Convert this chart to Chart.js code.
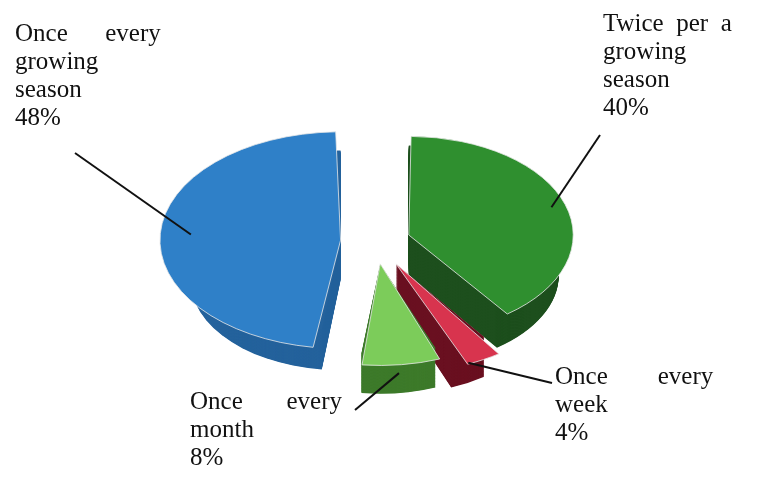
<!DOCTYPE html>
<html>
<head>
<meta charset="utf-8">
<script src="https://cdn.jsdelivr.net/npm/chart.js@4.4.1/dist/chart.umd.min.js"></script>
<style>
  body { margin: 0; background: #fff; }
  #wrap { width: 781px; height: 483px; }
</style>
</head>
<body>
<div id="wrap"><canvas id="pieChart"></canvas></div>
<script>
const categories = ['Twice per a growing season', 'Once every week', 'Once every month', 'Once every growing season'];
const shares = [40, 4, 8, 48];
const sliceColors = ['#2f8f2f', '#d8344e', '#7ccc5a', '#2f80c8'];
const sideColors = ['#1d4f1d', '#6a1020', '#3d7a2a', '#24629c'];
const sliceOffsets = [140, 170, 150, 140];
const labelLines = [
    ['Twice  per  a', 'growing', 'season', '40%'],
    ['Once        every', 'week', '4%'],
    ['Once       every', 'month', '8%'],
    ['Once      every', 'growing', 'season', '48%']
];
// top-left of each label block, and where its leader line starts
const labelPos = [[603, 12, 600, 135], [555, 365, 552, 383], [190, 390, 355, 410], [15, 22, 75, 153]];

const tilt = 0.6;
const depth = 40;

function drawnOffset(off) { return off / 4; }

const depthPlugin = {
    id: 'depth',
    beforeDatasetsDraw(chart) {
        const ctx = chart.ctx;
        const meta = chart.getDatasetMeta(0);
        const cy = meta.data[0].y;
        ctx.save();
        ctx.translate(0, cy * (1 - tilt));
        ctx.scale(1, tilt);
        const d0 = depth / tilt;
        meta.data.forEach((arc, i) => {
            const p = arc.getProps(['x', 'y', 'startAngle', 'endAngle', 'outerRadius'], true);
            const off = drawnOffset(sliceOffsets[i]);
            const mid = (p.startAngle + p.endAngle) / 2;
            const cx = p.x + Math.cos(mid) * off;
            const yy = p.y + Math.sin(mid) * off;
            ctx.fillStyle = sideColors[i];
            for (let d = d0; d > 0; d -= 1) {
                ctx.beginPath();
                ctx.moveTo(cx, yy + d);
                ctx.arc(cx, yy + d, p.outerRadius, p.startAngle, p.endAngle);
                ctx.closePath();
                ctx.fill();
            }
        });
    },
    afterDatasetsDraw(chart) {
        const ctx = chart.ctx;
        ctx.restore();
        const meta = chart.getDatasetMeta(0);
        const cy = meta.data[0].y;
        ctx.save();
        ctx.font = '25px "Liberation Serif", serif';
        ctx.fillStyle = '#111';
        ctx.strokeStyle = '#111';
        ctx.lineWidth = 2;
        ctx.textBaseline = 'top';
        meta.data.forEach((arc, i) => {
            const p = arc.getProps(['x', 'y', 'startAngle', 'endAngle', 'outerRadius'], true);
            const off = drawnOffset(sliceOffsets[i]);
            const mid = (p.startAngle + p.endAngle) / 2;
            const r = off + p.outerRadius;
            const ex = p.x + Math.cos(mid) * r;
            const ey = cy + (p.y + Math.sin(mid) * r - cy) * tilt + (Math.sin(mid) > 0 ? depth / 2 : 0);
            const [lx, ly, sx, sy] = labelPos[i];
            labelLines[i].forEach((t, k) => ctx.fillText(t, lx, ly + k * 28));
            ctx.beginPath();
            ctx.moveTo(sx, sy);
            ctx.lineTo(ex, ey);
            ctx.stroke();
        });
        ctx.restore();
    }
};

new Chart(document.getElementById('pieChart').getContext('2d'), {
    type: 'pie',
    data: {
        labels: categories,
        datasets: [{
            data: shares,
            backgroundColor: sliceColors,
            borderColor: '#e8e8e8',
            borderWidth: 1,
            offset: sliceOffsets
        }]
    },
    options: {
        responsive: true,
        maintainAspectRatio: false,
        animation: false,
        layout: { padding: { top: -50, bottom: -20, left: 140, right: 170 } },
        plugins: {
            legend: { display: false },
            tooltip: { enabled: false }
        }
    },
    plugins: [depthPlugin]
});
</script>
</body>
</html>
